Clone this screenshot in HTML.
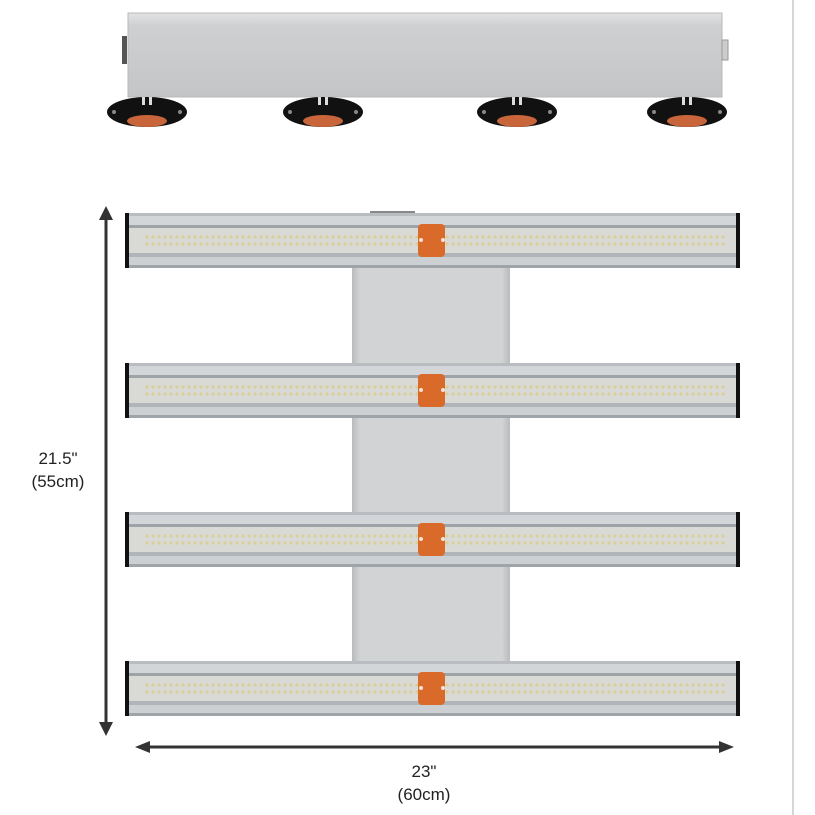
<!DOCTYPE html>
<html><head><meta charset="utf-8"><style>
html,body{margin:0;padding:0;background:#fff;}
svg{display:block}
text{font-family:"Liberation Sans",sans-serif;fill:#222;}
</style></head><body>
<svg width="815" height="815" viewBox="0 0 815 815" xmlns="http://www.w3.org/2000/svg">
<defs>
<pattern id="leds" x="0" y="0" width="6" height="7" patternUnits="userSpaceOnUse">
<circle cx="3" cy="3" r="1.6" fill="#d9cf9a"/>
</pattern>
<linearGradient id="topbox" x1="0" y1="0" x2="0" y2="1">
<stop offset="0" stop-color="#e2e3e4"/><stop offset="0.15" stop-color="#cfd0d1"/><stop offset="1" stop-color="#c4c5c6"/>
</linearGradient>
<linearGradient id="panel" x1="0" y1="0" x2="1" y2="0">
<stop offset="0" stop-color="#b8babc"/><stop offset="0.05" stop-color="#d2d3d5"/><stop offset="0.95" stop-color="#d2d3d5"/><stop offset="1" stop-color="#b8babc"/>
</linearGradient>
<g id="bar">
<rect x="125" y="0" width="615" height="55" fill="#b9bdc1"/>
<rect x="125" y="3" width="615" height="9" fill="#d3d6d9"/>
<rect x="125" y="12" width="615" height="3" fill="#9ea3a8"/>
<rect x="125" y="15" width="615" height="25" fill="#d9dad5"/>
<rect x="145" y="19" width="580" height="15" fill="url(#leds)"/>
<rect x="125" y="40" width="615" height="4" fill="#b0b5ba"/>
<rect x="125" y="44" width="615" height="8" fill="#ccd0d3"/>
<rect x="125" y="52" width="615" height="3" fill="#9fa4a9"/>
<rect x="125" y="0" width="4" height="55" fill="#111"/>
<rect x="736" y="0" width="4" height="55" fill="#111"/>
<rect x="418" y="11" width="27" height="33" rx="4" fill="#d96a2a"/>
<circle cx="421" cy="27" r="2" fill="#f4e3d6"/>
<circle cx="443" cy="27" r="2" fill="#f4e3d6"/>
</g>
<g id="foot">
<ellipse cx="0" cy="15" rx="40" ry="15" fill="#111"/>
<ellipse cx="0" cy="24" rx="20" ry="6" fill="#c9653a"/>
<rect x="-5" y="0" width="3" height="8" fill="#ddd"/>
<rect x="2" y="0" width="3" height="8" fill="#ddd"/>
<circle cx="-33" cy="15" r="2" fill="#888"/>
<circle cx="33" cy="15" r="2" fill="#888"/>
</g>
</defs>
<!-- right border -->
<rect x="792" y="0" width="2" height="815" fill="#d6d6d6"/>
<!-- top unit -->
<rect x="128" y="13" width="594" height="84" fill="url(#topbox)" stroke="#b8b9ba" stroke-width="1"/>
<rect x="122" y="36" width="5" height="28" fill="#555"/>
<rect x="722" y="40" width="6" height="20" fill="#ccc" stroke="#999"/>
<use href="#foot" x="147" y="97"/>
<use href="#foot" x="323" y="97"/>
<use href="#foot" x="517" y="97"/>
<use href="#foot" x="687" y="97"/>
<!-- center panel -->
<rect x="352" y="268" width="158" height="393" fill="url(#panel)"/>
<rect x="370" y="211" width="45" height="3" fill="#888"/>
<!-- bars -->
<use href="#bar" x="0" y="213"/>
<use href="#bar" x="0" y="363"/>
<use href="#bar" x="0" y="512"/>
<use href="#bar" x="0" y="661"/>
<!-- vertical dimension -->
<line x1="106" y1="218" x2="106" y2="724" stroke="#333" stroke-width="3"/>
<polygon points="106,206 99,220 113,220" fill="#333"/>
<polygon points="106,736 99,722 113,722" fill="#333"/>
<text x="58" y="464" font-size="17" text-anchor="middle">21.5"</text>
<text x="58" y="487" font-size="17" text-anchor="middle">(55cm)</text>
<!-- horizontal dimension -->
<line x1="148" y1="747" x2="722" y2="747" stroke="#333" stroke-width="3"/>
<polygon points="135,747 150,741 150,753" fill="#333"/>
<polygon points="734,747 719,741 719,753" fill="#333"/>
<text x="424" y="777" font-size="17" text-anchor="middle">23"</text>
<text x="424" y="800" font-size="17" text-anchor="middle">(60cm)</text>
</svg>
</body></html>
